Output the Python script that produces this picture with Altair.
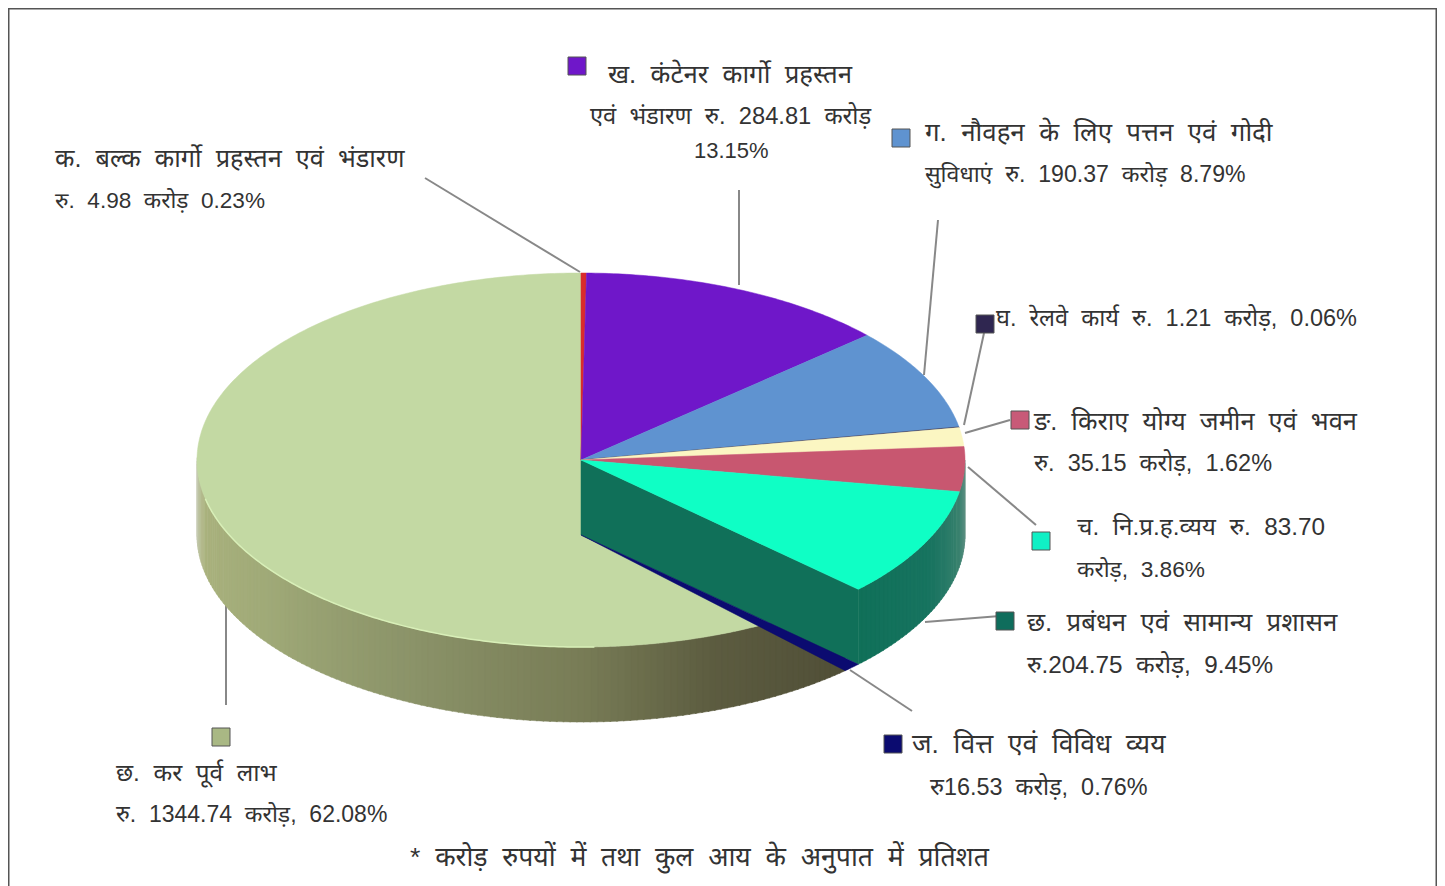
import math
import altair as alt

# ---- data ----
names = ["बल्क", "कंटेनर", "नौवहन", "रेलवे", "किराए", "नि.प्र.ह.", "प्रबंधन", "वित्त", "लाभ"]
percent = [0.23, 13.15, 8.79, 0.06, 1.62, 3.86, 9.45, 0.76, 62.08]
top_colors = ["#d92c2c", "#6f17c9", "#5f93d0", "#2a2040", "#fbf6c2", "#c85770", "#0fffc5", "#0b0b70", "#c3d9a3"]
key_colors = ["#6f17c9", "#5f93d0", "#2f2650", "#c85a78", "#10f0c5", "#0f6d5c", "#0b0b70", "#a9b884"]

text_lines = [
    "क. बल्क कार्गो प्रहस्तन एवं भंडारण", "रु. 4.98 करोड़ 0.23%",
    "ख. कंटेनर कार्गो प्रहस्तन", "एवं भंडारण रु. 284.81 करोड़", "13.15%",
    "ग. नौवहन के लिए पत्तन एवं गोदी", "सुविधाएं रु. 190.37 करोड़ 8.79%",
    "घ. रेलवे कार्य रु. 1.21 करोड़, 0.06%",
    "ङ. किराए योग्य जमीन एवं भवन", "रु. 35.15 करोड़, 1.62%",
    "च. नि.प्र.ह.व्यय रु. 83.70", "करोड़, 3.86%",
    "छ. प्रबंधन एवं सामान्य प्रशासन", "रु.204.75 करोड़, 9.45%",
    "ज. वित्त एवं विविध व्यय", "रु16.53 करोड़, 0.76%",
    "छ. कर पूर्व लाभ", "रु. 1344.74 करोड़, 62.08%",
]
footnote = "* करोड़ रुपयों में तथा कुल आय के अनुपात में प्रतिशत"

# ---- layout (page pixels) ----
CX, CY, RX, RY, DEPTH = 581, 460, 384, 187, 75
text_xy = [(55, 167), (55, 208), (608, 83), (590, 124), (694, 158), (925, 141), (925, 182),
           (996, 326), (1034, 430), (1034, 471), (1077, 535), (1077, 577), (1027, 631), (1027, 673),
           (912, 753), (930, 795), (116, 781), (116, 822)]
text_sizes = [25.3, 22.6, 25.8, 23.7, 22, 25.9, 23.1, 23.5, 25.4, 23.5, 24.3, 22.7, 25.8, 24.3, 26.4, 23.4, 24.4, 23]
key_xy = [(568, 57), (892, 129), (976, 315), (1011, 411), (1032, 532), (996, 612), (884, 735), (212, 728)]
leaders = [((425, 178), (580, 272)), ((739, 190), (739, 285)), ((938, 220), (924, 375)),
           ((984, 333), (964, 425)), ((1010, 420), (965, 433)), ((1036, 525), (968, 467)),
           ((1000, 616), (925, 622)), ((850, 670), (912, 711)), ((226, 600), (226, 705))]
frame = [(8.75, 886), (8.75, 8.75), (1436.25, 8.75), (1436.25, 886)]
green_shades = [(136.5, (80, 78, 55)), (160, (92, 92, 64)), (180, (120, 124, 86)), (205, (138, 146, 104)),
                (235, (160, 170, 120)), (258, (170, 178, 126)), (270, (200, 205, 182))]
teal_shades = [(90, (110, 150, 138)), (100, (60, 130, 112)), (115, (24, 116, 96)), (133.8, (16, 112, 89))]


def pt(deg, dy=0):
    a = math.radians(deg)
    return [CX + RX * math.sin(a), CY - RY * math.cos(a) + dy]


def arc(a0, a1, dy=0):
    n = max(2, int(abs(a1 - a0) * 1.5) + 1)
    return [pt(a0 + (a1 - a0) * i / (n - 1), dy) for i in range(n)]


def poly(points, color):
    pts = [list(p) for p in points]
    pts.append(pts[0])
    return {"type": "Feature", "properties": {"c": color},
            "geometry": {"type": "Polygon", "coordinates": [pts]}}


def line(points, color="#888888"):
    return {"type": "Feature", "properties": {"c": color},
            "geometry": {"type": "LineString", "coordinates": [list(p) for p in points]}}


def shade(stops, deg):
    for (a0, c0), (a1, c1) in zip(stops, stops[1:]):
        if a0 <= deg <= a1:
            t = (deg - a0) / (a1 - a0)
            return "#%02x%02x%02x" % tuple(round(u + (v - u) * t) for u, v in zip(c0, c1))
    return "#%02x%02x%02x" % stops[-1][1]


edges = [0.0]
for p in percent:
    edges.append(edges[-1] + p * 3.6)
cut0, cut1 = edges[7], edges[8]   # edges of the finance slice

walls = []
d = cut1
while d < 270:
    walls.append(poly(arc(d, d + 1.2) + arc(d + 1.2, d, DEPTH), shade(green_shades, d + 0.6)))
    d += 1.0
green_top = [poly([[CX, CY]] + arc(cut1, 360), top_colors[8])]
edge_glow = [line(arc(178, 258), "#d8efb8")]
teal = []
d = 90.0
while d < cut0:
    e = min(d + 1.2, cut0)
    teal.append(poly(arc(d, e) + arc(e, d, DEPTH), shade(teal_shades, d + 0.6)))
    d += 1.0
teal.append(poly([[CX, CY], pt(cut0), pt(cut0, DEPTH), [CX, CY + DEPTH]], "#107059"))
navy = [poly([[CX, CY + DEPTH]] + arc(cut0, cut1, DEPTH), top_colors[7])]
tops = [poly([[CX, CY]] + arc(edges[i], edges[i + 1]), top_colors[i]) for i in range(7)]
keys = [poly([(x, y), (x + 18, y), (x + 18, y + 18), (x, y + 18)], c) for (x, y), c in zip(key_xy, key_colors)]
leader_lines = [line(s) for s in leaders]
frame_line = [line(frame, "#555555")]


def shapes(features, **mark):
    return alt.Chart(alt.Data(values=features)).mark_geoshape(**mark).encode(
        fill=alt.Fill("properties.c:N", scale=None, legend=None),
        stroke=alt.Stroke("properties.c:N", scale=None, legend=None),
    )


def strokes(features, width):
    return alt.Chart(alt.Data(values=features)).mark_geoshape(filled=False, strokeWidth=width).encode(
        stroke=alt.Stroke("properties.c:N", scale=None, legend=None),
    )


def wide(s):
    return s.replace(" ", "\u00a0\u00a0")


labels = [{"x": x, "y": y, "t": wide(t), "s": s} for (x, y), t, s in zip(text_xy, text_lines, text_sizes)]
labels.append({"x": 410, "y": 866, "t": wide(footnote), "s": 26.6})
text_layer = alt.Chart(alt.Data(values=labels)).mark_text(
    align="left", baseline="alphabetic", font="Liberation Sans, Noto Sans, sans-serif", color="#333333"
).encode(longitude="x:Q", latitude="y:Q", text="t:N", size=alt.Size("s:Q", scale=None, legend=None))

key_layer = alt.Chart(alt.Data(values=keys)).mark_geoshape(stroke="#555555", strokeWidth=1).encode(
    fill=alt.Fill("properties.c:N", scale=None, legend=None))

chart = alt.layer(
    strokes(frame_line, 1.5),
    strokes(leader_lines, 2),
    shapes(walls, strokeWidth=0.5),
    shapes(green_top, strokeWidth=0.5),
    strokes(edge_glow, 1.5),
    shapes(teal, strokeWidth=0.5),
    shapes(navy, strokeWidth=0.5),
    shapes(tops, strokeWidth=0.5),
    key_layer,
    text_layer,
).project(type="identity", scale=1, translate=[-8, -8]).properties(
    width=1429, height=878, padding=0, autosize=alt.AutoSizeParams(type="none"), background="white"
).configure_view(stroke=None)

chart.save("out.html", embed_options={"renderer": "svg", "actions": False})
